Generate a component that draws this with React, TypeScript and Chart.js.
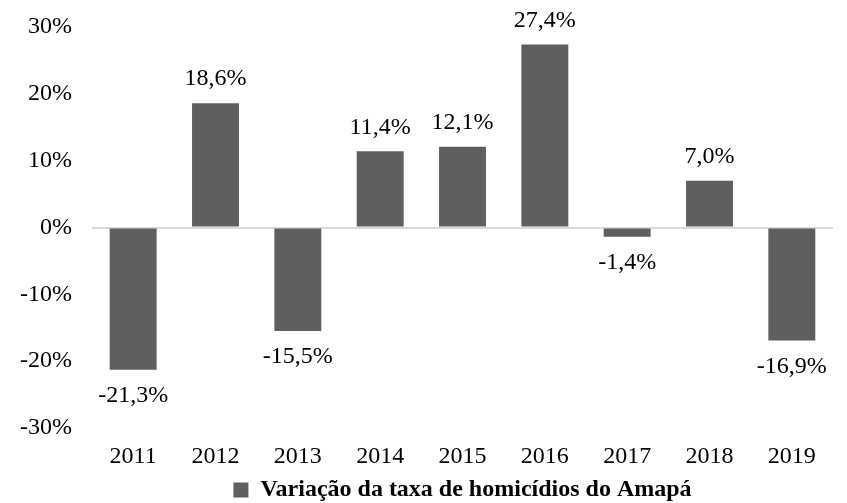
import React, { useEffect, useRef } from "react";
import { Chart, registerables } from "chart.js";

Chart.register(...registerables);

const years = ["2011", "2012", "2013", "2014", "2015", "2016", "2017", "2018", "2019"];
const variation = [-21.3, 18.6, -15.5, 11.4, 12.1, 27.4, -1.4, 7.0, -16.9];
const seriesLabel = "Variação da taxa de homicídios do Amapá";
const yMin = -30;
const yMax = 30;
const yStep = 10;

const FONT = "'Liberation Serif', 'Times New Roman', serif";
const BAR_COLOR = "#5f5f5f";

const fmt = (v: number) => v.toFixed(1).replace(".", ",") + "%";

const valueLabels = {
  id: "valueLabels",
  afterDatasetsDraw(chart: any) {
    const ctx = chart.ctx;
    const meta = chart.getDatasetMeta(0);
    const data = chart.data.datasets[0].data as number[];
    ctx.save();
    ctx.font = `24px ${FONT}`;
    ctx.fillStyle = "#000";
    ctx.textAlign = "center";
    ctx.textBaseline = "middle";
    meta.data.forEach((bar: any, i: number) => {
      const v = data[i];
      const y = v >= 0 ? bar.y - 24 : bar.y + 26;
      ctx.fillText(fmt(v), bar.x, y);
    });
    ctx.restore();
  },
};

export default function App() {
  const ref = useRef<HTMLCanvasElement | null>(null);

  useEffect(() => {
    document.body.style.margin = "0";
    const canvas = ref.current!;
    const chart = new Chart(canvas, {
      type: "bar",
      data: {
        labels: years,
        datasets: [
          {
            label: seriesLabel,
            data: variation,
            backgroundColor: BAR_COLOR,
            borderWidth: 0,
            barPercentage: 0.57,
            categoryPercentage: 1,
          },
        ],
      },
      options: {
        responsive: false,
        animation: false,
        layout: { padding: { top: 27, right: 14, left: 0, bottom: -9 } },
        plugins: {
          tooltip: { enabled: false },
          legend: {
            position: "bottom",
            fullSize: false,
            labels: {
              color: "#000",
              boxWidth: 15,
              boxHeight: 15,
              padding: 1,
              font: { family: FONT, size: 24, weight: "bold" },
            },
          },
        },
        scales: {
          x: {
            afterFit: (scale: any) => {
              scale.height = 49;
            },
            grid: { display: false, drawTicks: false },
            border: { display: false },
            ticks: {
              color: "#000",
              padding: 14,
              font: { family: FONT, size: 24 },
            },
          },
          y: {
            min: yMin,
            max: yMax,
            afterFit: (scale: any) => {
              scale.width = 92;
            },
            grid: {
              drawTicks: false,
              lineWidth: 2,
              color: (c: any) => (c.tick && c.tick.value === 0 ? "#d9d9d9" : "rgba(0,0,0,0)"),
            },
            border: { display: false },
            ticks: {
              stepSize: yStep,
              color: "#000",
              padding: 20,
              font: { family: FONT, size: 24, lineHeight: 0.5 },
              callback: (v: any) => v + "%",
            },
          },
        },
      },
      plugins: [valueLabels],
    });
    return () => chart.destroy();
  }, []);

  return (
    <div style={{ width: 847, height: 503 }}>
      <canvas ref={ref} width={847} height={503} style={{ width: 847, height: 503, display: "block" }} />
    </div>
  );
}
